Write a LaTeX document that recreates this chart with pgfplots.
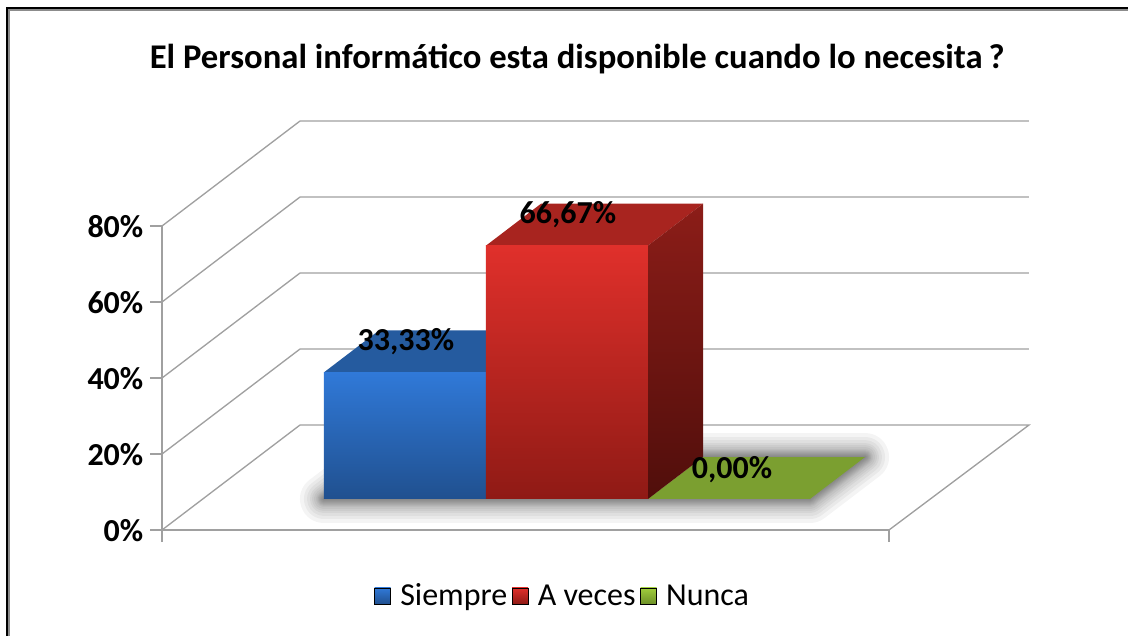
\documentclass[border=0pt]{standalone}
\usepackage{fontspec}
\usepackage{pgfplots}
\pgfplotsset{compat=1.18}
\setmainfont{Carlito}
\definecolor{gridc}{HTML}{A0A0A0}
\newcommand{\fs}{\fontsize{24}{28}\selectfont}
\begin{document}
\begin{tikzpicture}
\begin{axis}[
    scale only axis,
    width=545.25pt,
    height=228pt,
    xmin=0, xmax=4.488,
    ymin=0, ymax=80,
    clip=false,
    axis x line*=bottom,
    axis y line*=left,
    axis line style={gridc, line width=1pt, -},
    xtick={0,4.488},
    xticklabels={},
    ytick={0,20,40,60,80},
    yticklabel={\pgfmathprintnumber{\tick}\%},
    /pgf/number format/assume math mode=true,
    tick style={gridc, line width=1pt},
    tick align=outside,
    major tick length=9pt,
    yticklabel style={font=\fs\bfseries, text=black, xshift=-1.5pt, yshift=-0.4pt},
    title={El Personal informático esta disponible cuando lo necesita\,?},
    title style={font=\fontsize{26}{30}\selectfont\bfseries, text=black, at={(axis description cs:0.571,1.553)}, anchor=center, yshift=-6.75pt},
    legend style={draw=none, fill=none, font=\fs, text=black,
        at={(axis description cs:0.5516,-0.217)}, anchor=center, legend columns=-1,
        /tikz/every odd column/.append style={column sep=5pt},
        /tikz/every even column/.append style={column sep=1.5pt}},
]
% walls and floor
\addplot[gridc, line width=1pt, forget plot] coordinates {(0,0) (0.852,27.63) (5.352,27.63) (4.488,0)};
\addplot[gridc, line width=1pt, forget plot] coordinates {(0,20) (0.852,47.63) (5.352,47.63)};
\addplot[gridc, line width=1pt, forget plot] coordinates {(0,40) (0.852,67.63) (5.352,67.63)};
\addplot[gridc, line width=1pt, forget plot] coordinates {(0,60) (0.852,87.63) (5.352,87.63)};
\addplot[gridc, line width=1pt, forget plot] coordinates {(0,80) (0.852,107.63) (5.352,107.63)};
% soft shadow on the floor
\pgfplotsinvokeforeach{2,4,6,8,10,12,14,16,20,24,28,34,40,48}{
\addplot[black, draw opacity=0.045, line width=#1*0.75pt, line join=round, forget plot]
    coordinates {(1,8.16) (4,8.16) (4.34,19.2) (1.34,19.2)} --cycle;
}
% Siempre
\addplot[draw=none, fill={rgb,255:red,37;green,91;blue,159}, forget plot]
    coordinates {(1,41.49) (2,41.49) (2.34,52.54) (1.34,52.54)} --cycle;
\addplot[draw=none, top color={rgb,255:red,48;green,121;blue,216}, bottom color={rgb,255:red,32;green,80;blue,143}, forget plot]
    coordinates {(1,8.16) (2,8.16) (2,41.49) (1,41.49)} --cycle;
% Nunca
\addplot[draw=none, fill={rgb,255:red,123;green,159;blue,48}, forget plot]
    coordinates {(3,8.16) (4,8.16) (4.34,19.2) (3.34,19.2)} --cycle;
% A veces
\addplot[draw=none, fill={rgb,255:red,168;green,36;blue,31}, forget plot]
    coordinates {(2,74.83) (3,74.83) (3.34,85.88) (2.34,85.88)} --cycle;
\addplot[draw=none, top color={rgb,255:red,140;green,29;blue,24}, bottom color={rgb,255:red,80;green,14;blue,11}, forget plot]
    coordinates {(3,8.16) (3.34,19.2) (3.34,85.88) (3,74.83)} --cycle;
\addplot[draw=none, top color={rgb,255:red,224;green,48;blue,43}, bottom color={rgb,255:red,143;green,26;blue,21}, forget plot]
    coordinates {(2,8.16) (3,8.16) (3,74.83) (2,74.83)} --cycle;
% value labels
\addplot[draw=none, forget plot, point meta=explicit symbolic,
    nodes near coords, nodes near coords align={anchor=center},
    every node near coord/.append style={font=\fs\bfseries, text=black}]
    coordinates {(1.506,49.7)[33,33\%] (2.506,83)[66,67\%] (3.519,16)[0,00\%]};
% legend
\addlegendimage{legend image code/.code={\shade[top color={rgb,255:red,48;green,121;blue,216}, bottom color={rgb,255:red,32;green,80;blue,143}] (0pt,-6pt) rectangle (12pt,6pt);}}
\addlegendentry{Siempre}
\addlegendimage{legend image code/.code={\shade[top color={rgb,255:red,224;green,48;blue,43}, bottom color={rgb,255:red,143;green,26;blue,21}] (0pt,-6pt) rectangle (12pt,6pt);}}
\addlegendentry{A veces}
\addlegendimage{legend image code/.code={\shade[top color={rgb,255:red,160;green,205;blue,60}, bottom color={rgb,255:red,110;green,145;blue,40}] (0pt,-6pt) rectangle (12pt,6pt);}}
\addlegendentry{Nunca}
\end{axis}
% outer frame, open on the right and at the bottom
\draw[black!45, line width=1.5pt] (-114.5pt,-79.5pt) -- (-114.5pt,390pt) -- (724.5pt,390pt);
\draw[black, line width=2pt] (-116.25pt,-79.5pt) -- (-116.25pt,391.5pt) -- (724.5pt,391.5pt);
\pgfresetboundingbox
\path[use as bounding box] (-121.5pt,-79.5pt) rectangle (724.5pt,397.5pt);
\end{tikzpicture}
\end{document}
